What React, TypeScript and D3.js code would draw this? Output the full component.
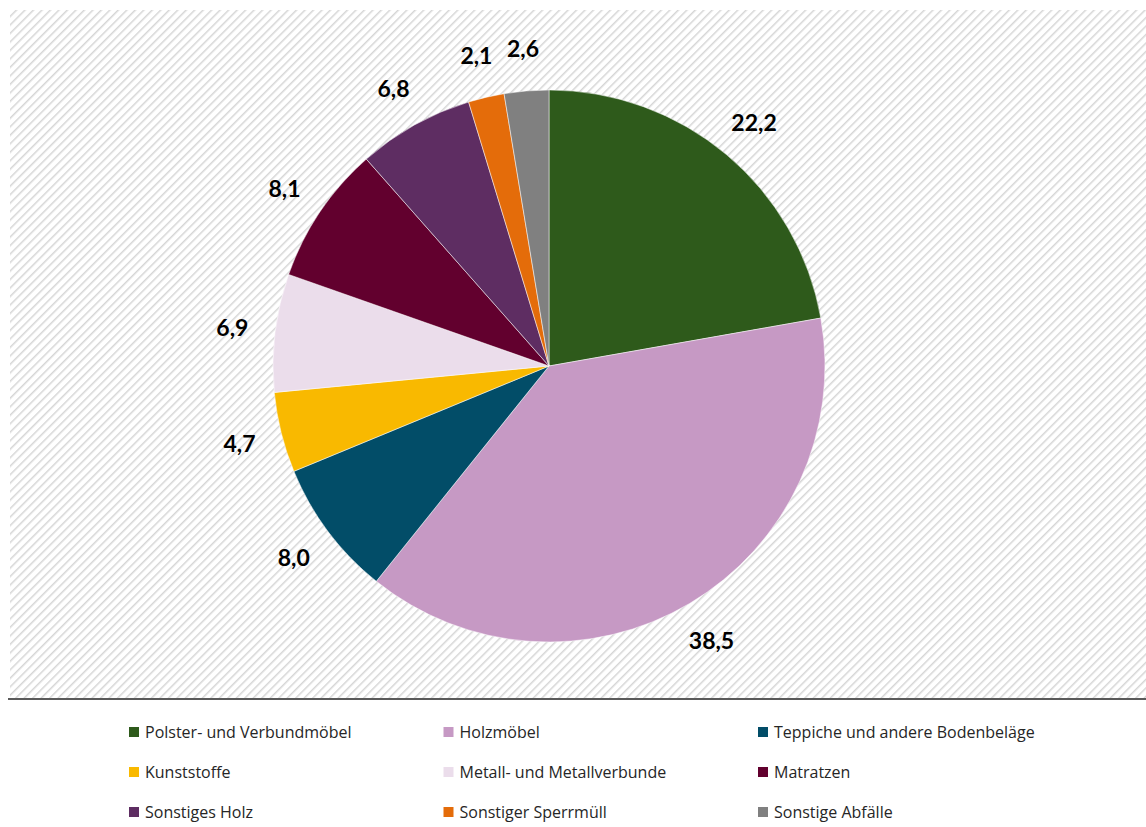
import React from "react";
import * as d3 from "d3";

const categories = [
  "Polster- und Verbundmöbel",
  "Holzmöbel",
  "Teppiche und andere Bodenbeläge",
  "Kunststoffe",
  "Metall- und Metallverbunde",
  "Matratzen",
  "Sonstiges Holz",
  "Sonstiger Sperrmüll",
  "Sonstige Abfälle",
];
const values = [22.2, 38.5, 8.0, 4.7, 6.9, 8.1, 6.8, 2.1, 2.6];
const labels = ["22,2", "38,5", "8,0", "4,7", "6,9", "8,1", "6,8", "2,1", "2,6"];
const colors = [
  "#2E5A1B",
  "#C699C4",
  "#024D68",
  "#F9B900",
  "#EBDDEB",
  "#62002E",
  "#5E2D62",
  "#E46C0A",
  "#808080",
];

const W = 1146;
const H = 827;
const cx = 549;
const cy = 366;
const R = 276;
const labelR = 319;

export default function App() {
  const pie = d3
    .pie<number>()
    .sort(null)
    .value((d) => d);
  const arcs = pie(values);
  const arc = d3.arc<d3.PieArcDatum<number>>().innerRadius(0).outerRadius(R);
  const labelArc = d3
    .arc<d3.PieArcDatum<number>>()
    .innerRadius(labelR)
    .outerRadius(labelR);

  const colX = d3.scaleLinear().domain([0, 2]).range([129, 758]);
  const rowY = d3.scaleLinear().domain([0, 2]).range([732, 812]);

  return (
    <svg
      width={W}
      height={H}
      style={{ position: "absolute", left: 0, top: 0, background: "#fff" }}
      fontFamily="Lato, 'Open Sans', sans-serif"
    >
      <defs>
        <pattern
          id="hatch"
          patternUnits="userSpaceOnUse"
          width={6}
          height={6}
          patternTransform="rotate(45)"
        >
          <rect width={6} height={6} fill="#ffffff" />
          <line x1={0} y1={0} x2={0} y2={6} stroke="#d6d6d6" strokeWidth={3} />
        </pattern>
      </defs>
      <rect x={10} y={10} width={W - 10} height={688} fill="url(#hatch)" />
      <line x1={8} x2={W} y1={699} y2={699} stroke="#5a5a5a" strokeWidth={2} />
      <g transform={`translate(${cx},${cy})`}>
        {arcs.map((a, i) => (
          <path key={i} d={arc(a) || ""} fill={colors[i]} stroke="#ffffff" strokeWidth={0.5} />
        ))}
        {arcs.map((a, i) => {
          const [x, y] = labelArc.centroid(a);
          return (
            <text
              key={"l" + i}
              x={x}
              y={y}
              textAnchor="middle"
              dominantBaseline="central"
              fontWeight="bold"
              fontSize={23}
              fill="#000"
            >
              {labels[i]}
            </text>
          );
        })}
      </g>
      <g fontFamily="'Open Sans', sans-serif">
        {categories.map((c, i) => {
          const col = i % 3;
          const row = Math.floor(i / 3);
          const x = colX(col);
          const y = rowY(row);
          return (
            <g key={"lg" + i}>
              <rect x={x} y={y - 5} width={10} height={10} fill={colors[i]} />
              <text x={x + 16} y={y} dominantBaseline="central" fontSize={16} fill="#262626">
                {c}
              </text>
            </g>
          );
        })}
      </g>
    </svg>
  );
}
